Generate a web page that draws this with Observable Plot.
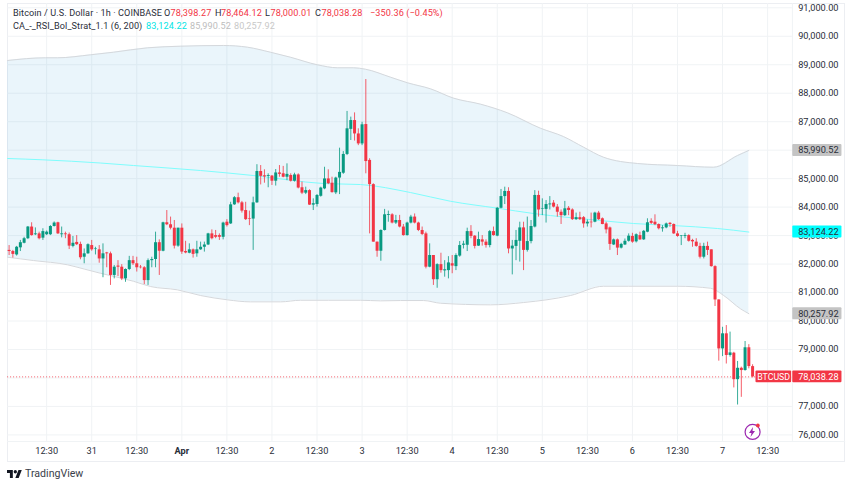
<!DOCTYPE html>
<html>
<head>
<meta charset="utf-8">
<script src="https://cdn.jsdelivr.net/npm/d3@7"></script>
<script src="https://cdn.jsdelivr.net/npm/@observablehq/plot@0.6"></script>
<style>
html,body{margin:0;padding:0;background:#fff}
#wrap{position:relative;width:852px;height:485px;overflow:hidden;font-family:Roboto,sans-serif;color:#2a2e39}
#wrap svg{display:block}
.h{position:absolute;font-size:9.1px;line-height:12px;white-space:nowrap;letter-spacing:0.1px}
</style>
</head>
<body>
<div id="wrap"></div>
<script>
const opens=[82480,82440,82320,82570,82730,82890,83300,83030,83060,82910,
83030,83030,83320,83450,83030,83060,83030,82620,82760,82690,
82240,82360,82650,82510,82500,82180,82390,82360,81600,81930,
81890,81480,81810,82120,82010,81890,81870,81420,82120,82160,
82750,82450,83450,83380,83260,82630,83260,82440,82380,82500,
82360,82500,82590,82670,83060,83000,83000,82940,83470,83410,
84080,84330,84150,83880,83600,83580,84150,85250,85100,85080,
85090,84910,85200,85170,85050,85110,84910,85130,84680,84490,
84580,84070,84090,84380,84640,84990,84840,84500,85020,85190,
85850,86730,87040,86570,86220,86900,85640,84790,82770,82450,
83180,83710,83730,83440,83530,83300,83000,83440,83650,83440,
83180,83060,81890,82300,81450,81980,81760,81770,82010,81910,
82280,82660,82660,83140,82980,82630,82850,82770,82650,83140,
82980,83960,84370,84550,82530,82620,82800,83270,82480,82790,
83300,84410,83930,83920,84080,84140,84000,83820,83700,83960,
83900,83560,83630,83630,83410,83470,83470,83790,83590,83410,
83270,82670,82850,82560,82670,82800,82970,82780,83000,82850,
83120,83500,83470,83390,83240,83270,83430,83390,83060,82970,
82970,83000,82830,82770,82620,82240,82620,82500,81910,80740,
79020,79550,78790,78870,77940,78340,78260,79060,78398.27];
const highs=[82650,82480,82620,82830,82940,83320,83450,83270,83120,83240,
83160,83350,83480,83470,83300,83120,83090,82970,83000,82770,
82530,82710,82830,82590,82650,82710,82410,82420,81950,82120,
81980,81830,82270,82270,82240,81950,81910,82180,82240,83120,
82850,83470,83880,83650,83530,83260,83410,82800,82710,82530,
82800,82770,82770,83080,83200,83180,83060,83470,83560,84170,
84370,84490,84200,84170,83860,84350,85490,85460,85310,85170,
85110,85320,85460,85430,85520,85170,85190,85170,84880,84700,
84610,84290,84440,84700,85400,85310,85050,85050,86070,85950,
87360,87160,87310,86750,86980,88480,85700,84820,82770,83200,
83920,83860,83770,83710,83710,83390,83470,83710,83760,83470,
83300,83120,82710,82300,82010,82380,82120,82260,82300,82360,
82790,82800,83260,83350,83000,83120,83000,82850,83180,83300,
83990,84620,84700,84680,82830,83180,83470,83470,83650,83530,
84580,84560,84290,84230,84370,84230,84090,83900,84200,84020,
83940,83790,83820,83670,83550,83790,83820,83850,83620,83470,
83300,82880,82880,82730,82880,83060,83080,83060,83120,83180,
83590,83590,83730,83410,83350,83440,83460,83410,83150,83000,
83080,83030,82870,82890,82730,82730,82770,82500,81940,80740,
79780,79840,79610,78900,78580,78380,79280,79170,78464.12];
const lows=[82300,82210,82280,82440,82710,82860,82980,83000,82850,82830,
83000,83000,83300,83040,82920,82890,82510,82570,82650,82150,
82010,82340,82450,82320,82030,81520,81870,81250,81480,81560,
81420,81360,81770,81950,81720,81830,81280,81250,81870,81870,
81600,82430,83350,83200,82530,82590,82340,82360,82360,82210,
82240,82480,82420,82650,82850,82890,82830,82850,83300,83390,
84060,84110,83790,83530,83350,82480,84130,84780,84840,84680,
84760,84740,85050,85030,84930,84880,84880,84640,84440,84440,
84060,83880,84000,84350,84610,84790,84490,84440,84440,85150,
85810,86340,86320,86160,86160,85170,83060,82770,82240,82100,
83160,83470,83410,83390,83270,82980,82980,83410,83410,83140,
83000,81830,81870,81250,81150,81680,81540,81480,81660,81770,
82240,82530,82440,82890,82530,82620,82630,82560,82570,82980,
82960,83940,84090,82360,81620,82120,82070,81770,82420,82710,
83270,83650,83700,83440,83900,83970,83650,83390,83670,83700,
83530,83530,83530,83260,83300,83270,83450,83530,83380,83060,
82480,82650,82300,82530,82650,82770,82730,82740,82830,82830,
83100,83390,83350,83200,83120,83240,83290,83040,82940,82650,
82890,82770,82590,82590,82180,82180,82300,81890,80510,78590,
78750,78490,78730,77650,77050,77320,78240,78320,78000.01];
const closes=[82440,82340,82590,82750,82890,83300,83000,83060,82890,83140,
83120,83320,83440,83060,83060,83030,82630,82730,82680,82220,
82360,82680,82500,82530,82180,82360,82360,81600,81890,81890,
81480,81810,82120,82010,81870,81870,81420,82120,82160,82750,
82450,83450,83380,83260,82630,83260,82420,82390,82500,82340,
82500,82590,82670,83060,82890,82940,82940,83440,83350,84080,
84330,84150,83860,83560,83580,84150,85250,85080,85060,85110,
84910,85200,85150,85050,85150,84910,85130,84670,84490,84580,
84070,84120,84410,84670,84990,84820,84510,85020,85220,85850,
86750,87040,86570,86220,86890,85600,84790,82770,82450,83180,
83730,83740,83440,83530,83300,83000,83440,83650,83440,83180,
83040,81890,82300,81450,81980,81770,81800,82040,81930,82300,
82650,82700,83140,82970,82620,82860,82770,82650,83140,83000,
83960,84370,84550,82530,82630,82830,83270,82480,82790,83320,
84410,83900,83950,84090,84110,84000,83820,83700,83940,83880,
83560,83630,83560,83410,83470,83450,83790,83560,83390,83200,
82690,82850,82560,82690,82800,82980,82770,83030,82850,83150,
83450,83430,83380,83240,83270,83410,83390,83060,82970,82990,
83000,82800,82780,82620,82240,82620,82480,81910,80740,79020,
79550,78790,78880,77940,78340,78260,79060,78400,78038.28];

const upperX=[-0.4,9.7,12.9,21.7,27.8,36.9,45.6,57.1,63.5,69.6,74.9,82.1,87.5,91.7,94.9,101.6,106.1,112.2,118.4,125.6,132.7,141.5,147.6,153,158.3,167.4,178,187.6,194,197];
const upperY=[89149,89244,89244,89349,89440,89595,89651,89676,89616,89440,89265,88998,88893,88893,88843,88562,88366,88155,87825,87614,87312,86771,86480,86104,85752,85531,85461,85401,85812,85990.52];
const lowerX=[-0.4,6.5,15.6,20,24.3,33.1,37.7,44.8,51,58.2,64.3,72.3,77.6,85,93.6,98.9,104.2,110.4,114.9,128.2,137,149.5,158.3,165,172,178,186.8,190.3,194.8,197];
const lowerY=[82240,82124,81973,81825,81678,81397,81210,81095,80895,80743,80673,80673,80729,80729,80729,80708,80719,80719,80624,80568,80649,80895,81221,81221,81221,81221,81151,80895,80427,80257.92];
const midX=[-0.4,9,24.3,33.1,51,65,83.7,93.6,106.9,117.5,130.1,139.7,157.5,166.3,176.9,188.7,197];
const midY=[85707,85661,85549,85461,85285,85110,84829,84793,84512,84207,83961,83775,83529,83424,83353,83248,83124.22];

const priceTicks=d3.range(76000,91001,1000);
const timeTicks=[10,22,34,46,58,70,82,94,106,118,130,142,154,166,178,190,202];
const timeLabels=["12:30","31","12:30","Apr","12:30","2","12:30","3","12:30","4","12:30","5","12:30","6","12:30","7","12:30"];
const badgePrices=[85990.52,83124.22,80257.92,78038.28];
const badgeLabels=["85,990.52","83,124.22","80,257.92","78,038.28"];
const badgeKinds=["band","mid","band","last"];

const candles=d3.range(closes.length);
const bandRows=d3.range(upperX.length);
const font='Roboto,sans-serif';
const ink="#2a2e39";
const grid="#f0f3f5";
const dir=i=>closes[i]>=opens[i]?"up":"down";
const bh=210;

const chart=Plot.plot({
  width:852,height:485,
  marginTop:3,marginBottom:24,marginLeft:7,marginRight:8,
  style:{fontFamily:font,fontSize:"9.2px",background:"#fff",color:ink},
  x:{domain:[0,200],range:[8.6,759.6],axis:null},
  y:{domain:[76000,91000],range:[434.4,7.3],axis:null},
  color:{type:"categorical",domain:["up","down","band","mid","last"],range:["#089981","#f23645","#c4c4c4","#00ffff","#f23645"]},
  marks:[
    Plot.frame({stroke:"#eceef2"}),
    Plot.ruleY(priceTicks,{x1:-0.4,x2:208.6,stroke:grid}),
    Plot.ruleX(timeTicks,{y1:91150,y2:75770,stroke:grid}),
    Plot.ruleX([208.6],{y1:91150,y2:75770,stroke:grid}),
    Plot.ruleY([75770],{x1:-0.4,x2:222.8,stroke:grid}),
    Plot.area(bandRows,{x1:i=>upperX[i],y1:i=>upperY[i],x2:i=>lowerX[i],y2:i=>lowerY[i],fill:"#1e96d8",fillOpacity:0.095,curve:"monotone-x"}),
    Plot.line(bandRows,{x:i=>upperX[i],y:i=>upperY[i],stroke:"#d5d8dc",strokeWidth:1,curve:"monotone-x"}),
    Plot.line(bandRows,{x:i=>lowerX[i],y:i=>lowerY[i],stroke:"#d5d8dc",strokeWidth:1,curve:"monotone-x"}),
    Plot.line(d3.range(midX.length),{x:i=>midX[i],y:i=>midY[i],stroke:"#7ffdfd",strokeWidth:1,curve:"monotone-x"}),
    Plot.ruleY([78038.28],{x1:-0.4,x2:208.6,stroke:"#f23645",strokeWidth:0.8,strokeDasharray:"1,2"}),
    Plot.ruleX(candles,{x:i=>i,y1:i=>lows[i],y2:i=>highs[i],stroke:dir,strokeWidth:1,strokeOpacity:0.8}),
    Plot.ruleX(candles,{x:i=>i,y1:i=>opens[i],y2:i=>closes[i],stroke:dir,strokeWidth:3}),
    Plot.axisY({anchor:"right",ticks:priceTicks,tickSize:0,tickPadding:0,dx:-6,textAnchor:"end",tickFormat:d3.format(",.2f"),fill:ink,label:null}),
    Plot.axisX({anchor:"bottom",ticks:timeTicks.filter((d,i)=>timeLabels[i]!=="Apr"),tickSize:0,tickPadding:0,dy:-14,tickFormat:d=>timeLabels[timeTicks.indexOf(d)],fill:ink,label:null}),
    Plot.axisX({anchor:"bottom",ticks:timeTicks.filter((d,i)=>timeLabels[i]==="Apr"),tickSize:0,tickPadding:0,dy:-14,tickFormat:d=>timeLabels[timeTicks.indexOf(d)],fill:ink,fontWeight:700,label:null}),
    Plot.rect(d3.range(4),{x1:208.7,x2:221.8,y1:i=>badgePrices[i]-bh,y2:i=>badgePrices[i]+bh,fill:i=>badgeKinds[i],rx:1}),
    Plot.rect([78038.28],{x1:198.9,x2:208.4,y1:d=>d-bh,y2:d=>d+bh,fill:"#f23645",rx:1}),
    Plot.text(d3.range(4),{x:220.9,y:i=>badgePrices[i],text:i=>badgeLabels[i],textAnchor:"end",fill:i=>badgeKinds[i]==="last"?"#fff":ink}),
    Plot.text(["BTCUSD"],{x:203.6,y:78038.28,text:d=>d,fill:"#fff",fontSize:8.8}),
    Plot.dot([198],{x:d=>d,y:76105,r:7.5,stroke:"#9c27b0",strokeWidth:1.2,fill:"#fff"}),
    Plot.dot([199.4],{x:d=>d,y:76330,r:1.9,fill:"#f23645"})
  ]
});

const wrap=document.getElementById("wrap");
wrap.appendChild(chart);
const red="#f23645";
const spans=[
 [13,7,ink,"Bitcoin / U.S. Dollar · 1h · COINBASE"],
 [164,7,ink,"O"],[170.5,7,red,"78,398.27"],
 [215,7,ink,"H"],[221,7,red,"78,464.12"],
 [265,7,ink,"L"],[270.5,7,red,"78,000.01"],
 [315,7,ink,"C"],[321.5,7,red,"78,038.28"],
 [370,7,red,"−350.36 (−0.45%)"],
 [13,20,ink,"CA_-_RSI_Bol_Strat_1.1 (6, 200)"],
 [146,20,"#00e5e5","83,124.22"],
 [190,20,"#bdbdbd","85,990.52"],
 [234,20,"#c8c8c8","80,257.92"]
];
for(const [l,t,c,s] of spans){
  const e=document.createElement("div");
  e.className="h";e.style.left=l+"px";e.style.top=t+"px";e.style.color=c;e.textContent=s;
  wrap.appendChild(e);
}
const ov=document.createElement("div");
ov.innerHTML=`<svg style="position:absolute;left:7px;top:470px" width="15" height="8" viewBox="0 0 36 18" preserveAspectRatio="none"><path fill="#131722" d="M14 18H7V7H0V0h14v18zM28 18h-8l7.5-18h8L28 18z"/><circle cx="20" cy="4" r="4" fill="#131722"/></svg>
<svg style="position:absolute;left:746.5px;top:426px" width="10" height="12" viewBox="0 0 10 12"><path fill="#9c27b0" d="M6 1 L2 7 H4.5 L3.5 11 L8 5 H5.5 Z"/></svg>
<div class="h" style="left:25px;top:467px;font-size:10.6px;line-height:14px;letter-spacing:0;color:#3a3e49">TradingView</div>`;
wrap.appendChild(ov);
</script>
</body>
</html>
